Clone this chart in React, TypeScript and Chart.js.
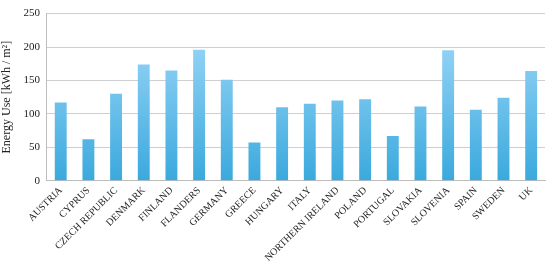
import React, { useEffect, useRef } from "react";
import { Chart, registerables } from "chart.js";

Chart.register(...registerables);

const categories = [
  "AUSTRIA", "CYPRUS", "CZECH REPUBLIC", "DENMARK", "FINLAND", "FLANDERS",
  "GERMANY", "GREECE", "HUNGARY", "ITALY", "NORTHERN IRELAND", "POLAND",
  "PORTUGAL", "SLOVAKIA", "SLOVENIA", "SPAIN", "SWEDEN", "UK",
];
const energyUse = [117, 62, 130, 174, 165, 196, 151, 57, 110, 115, 120, 122, 67, 111, 195, 106, 124, 164];
const yTicks = [0, 50, 100, 150, 200, 250];
const yTitle = "Energy Use [kWh / m\u00B2]";

export default function App() {
  const ref = useRef<HTMLCanvasElement>(null);
  useEffect(() => {
    document.body.style.margin = "0";
    const ctx = ref.current!.getContext("2d")!;
    const chart = new Chart(ctx, {
      type: "bar",
      data: {
        labels: categories,
        datasets: [
          {
            data: energyUse,
            backgroundColor: (c: any) => {
              const area = c.chart.chartArea;
              if (!area) return "#5bbbe8";
              const g = c.chart.ctx.createLinearGradient(0, area.top, 0, area.bottom);
              g.addColorStop(0, "#a6dcfb");
              g.addColorStop(1, "#3ba9dd");
              return g;
            },
            borderWidth: 0,
            barPercentage: 0.43,
            categoryPercentage: 1,
          },
        ],
      },
      options: {
        animation: false,
        responsive: false,
        maintainAspectRatio: false,
        layout: { padding: { top: 2, right: 5, left: 0, bottom: 0 } },
        plugins: { legend: { display: false }, tooltip: { enabled: false } },
        scales: {
          x: {
            grid: { display: false, drawTicks: false },
            border: { display: true, color: "#bdbdbd", width: 1 },
            ticks: {
              minRotation: 45,
              maxRotation: 45,
              autoSkip: false,
              padding: 4,
              color: "#222",
              font: { family: "'Liberation Serif'", size: 10 },
            },
          },
          y: {
            min: 0,
            max: 250,
            afterBuildTicks: (axis: any) => {
              axis.ticks = yTicks.map((v) => ({ value: v }));
            },
            grid: { color: "#cfcfcf", drawTicks: false, lineWidth: 1 },
            border: { display: true, color: "#bdbdbd", width: 1 },
            ticks: {
              padding: 7,
              color: "#222",
              font: { family: "'Liberation Serif'", size: 11 },
            },
            title: {
              display: true,
              text: yTitle,
              color: "#222",
              padding: { top: 0, bottom: 2 },
              font: { family: "'Liberation Serif'", size: 12 },
            },
          },
        },
      },
    });
    return () => chart.destroy();
  }, []);
  return (
    <div style={{ width: 550, height: 268, background: "#fff" }}>
      <canvas ref={ref} width={550} height={268} style={{ width: 550, height: 268, display: "block" }} />
    </div>
  );
}
